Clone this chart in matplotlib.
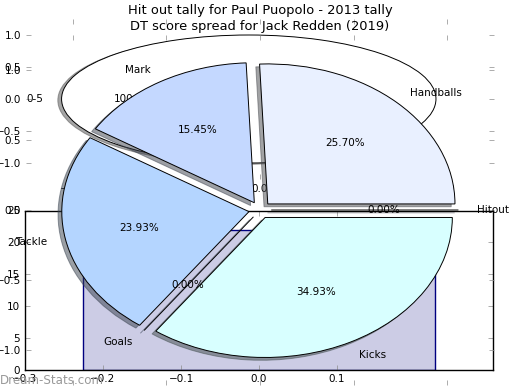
import matplotlib
matplotlib.use("Agg")
import matplotlib.pyplot as plt

# ---- data ----
hit_labels = ['0-5']
hit_values = [1]
hit_colors = ['white']

dt_labels = ['Handballs', 'Mark', 'Tackle', 'Goals', 'Kicks', 'Hitout']
dt_values = [25.70, 15.45, 23.93, 0.0, 34.93, 0.0]
dt_colors = ['#e9f0ff', '#c4d8ff', '#b4d5ff', '#a0c8ff', '#d8ffff', '#e0e0ff']

bar_x = [0.0]
bar_h = [22]

pie_ticks = [-1.0, -0.5, 0.0, 0.5, 1.0]
bar_xticks = [-0.3, -0.2, -0.1, 0.0, 0.1]
bar_yticks = [0, 5, 10, 15, 20, 25]

FS = 7.5
plt.rcParams['font.family'] = 'DejaVu Sans'
plt.rcParams['font.size'] = FS

fig = plt.figure(figsize=(5.2, 3.9), dpi=100)
W, H = 520.0, 390.0
SHADOW = {'ox': -0.0144, 'oy': -0.0144}


def tick_style(ax):
    ax.tick_params(axis='both', which='both', direction='in', top=True,
                   right=True, length=3.5, width=0.5, color='0.55',
                   labelsize=FS, pad=3.5)


# Axes A: top pie
axA = fig.add_axes([26 / W, 1 - 179 / H, 468 / W, 160 / H])
axA.pie(hit_values, labels=hit_labels, colors=hit_colors, explode=[0.06],
        autopct='%1.2f%%', shadow=SHADOW, startangle=0,
        wedgeprops=dict(edgecolor='black', linewidth=0.7),
        textprops=dict(fontsize=FS))
axA.set_aspect('auto')
axA.set_xlim(-1.25, 1.25)
axA.set_ylim(-1.25, 1.25)
axA.set_xticks(pie_ticks)
axA.set_yticks(pie_ticks)
tick_style(axA)
axA.set_title('Hit out tally for Paul Puopolo - 2013 tally', fontsize=9.4,
              pad=3.5)

# Axes C: bar
axC = fig.add_axes([25 / W, 1 - 369.5 / H, 468 / W, 159 / H])
axC.bar(bar_x, bar_h, width=0.45, facecolor=(0, 0, 0.5, 0.2),
        edgecolor='navy', linewidth=1.0)
axC.set_xlim(-0.3, 0.3)
axC.set_ylim(0, 25)
axC.set_xticks(bar_xticks)
axC.set_yticks(bar_yticks)
tick_style(axC)
for s in axC.spines.values():
    s.set_linewidth(1.0)

# Axes B: large pie
axB = fig.add_axes([26 / W, 1 - 385 / H, 468 / W, 350 / H])
axB.pie(dt_values, labels=dt_labels, colors=dt_colors,
        explode=[0.06] * len(dt_values), autopct='%1.2f%%', shadow=SHADOW,
        startangle=0, wedgeprops=dict(edgecolor='black', linewidth=0.7),
        textprops=dict(fontsize=FS))
axB.set_aspect('auto')
axB.set_xlim(-1.25, 1.25)
axB.set_ylim(-1.25, 1.25)
axB.set_xticks(pie_ticks)
axB.set_yticks(pie_ticks)
tick_style(axB)
axB.set_title('DT score spread for Jack Redden (2019)', fontsize=9.4, pad=3.5)

fig.text(0.0, 1 - 380 / H, 'Dream-Stats.com', color='0.6', fontsize=8.6,
         ha='left', va='center')

fig.savefig('out.png', dpi=100)
